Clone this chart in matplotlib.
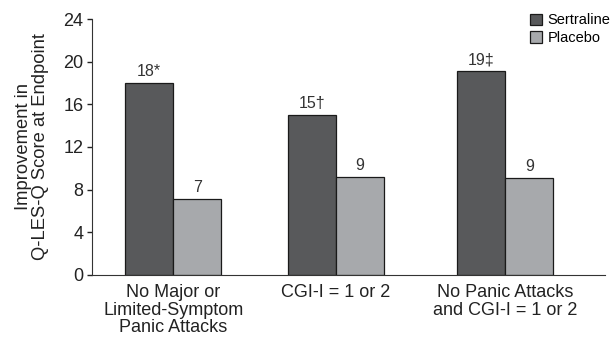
import matplotlib.pyplot as plt
import numpy as np

plt.rcParams['font.family'] = ['Liberation Sans', 'DejaVu Sans']

# data
groups = ['No Major or\nLimited-Symptom\nPanic Attacks', 'CGI-I = 1 or 2', 'No Panic Attacks\nand CGI-I = 1 or 2']
sertraline = [18.0, 15.0, 19.1]
placebo = [7.1, 9.2, 9.1]
sert_labels = ['18*', '15\u2020', '19\u2021']
plac_labels = ['7', '9', '9']

x = np.array([0.0, 0.98, 2.0])
w = 0.29

fig = plt.figure(figsize=(6.16, 3.41), dpi=100)
ax = fig.add_axes([0.149, 0.194, 0.833, 0.75])

b1 = ax.bar(x - w/2, sertraline, w, color='#58595b', edgecolor='#1a1a1a', linewidth=0.9, label='Sertraline')
b2 = ax.bar(x + w/2, placebo, w, color='#a7a9ac', edgecolor='#1a1a1a', linewidth=0.9, label='Placebo')

for rect, lab in zip(b1, sert_labels):
    ax.text(rect.get_x() + rect.get_width()/2, rect.get_height() + 0.35, lab,
            ha='center', va='bottom', fontsize=11.5, color='#333333')
for rect, lab in zip(b2, plac_labels):
    ax.text(rect.get_x() + rect.get_width()/2, rect.get_height() + 0.35, lab,
            ha='center', va='bottom', fontsize=11.5, color='#333333')

ax.set_xlim(-0.49, 2.6)
ax.set_ylim(0, 24)
ax.set_yticks([0, 4, 8, 12, 16, 20, 24])
ax.set_xticks(x)
ax.set_xticklabels(groups, fontsize=13, color='#222222', linespacing=1.05)
ax.tick_params(axis='x', length=0, pad=6.5)
ax.tick_params(axis='y', length=3.6, width=1, labelsize=13, colors='#222222', direction='out', pad=2.5)
ax.spines['top'].set_visible(False)
ax.spines['right'].set_visible(False)
ax.spines['left'].set_color('#333333')
ax.spines['bottom'].set_color('#333333')
ax.set_ylabel('Improvement in\nQ-LES-Q Score at Endpoint', fontsize=13.2, color='#222222', labelpad=10, linespacing=1.05)

ax.legend(loc='upper left', bbox_to_anchor=(0.843, 1.045), frameon=False, fontsize=10.5,
          handlelength=0.8, handleheight=0.8, handletextpad=0.4, labelspacing=0.25, borderaxespad=0)

fig.savefig('out.png', dpi=100)
